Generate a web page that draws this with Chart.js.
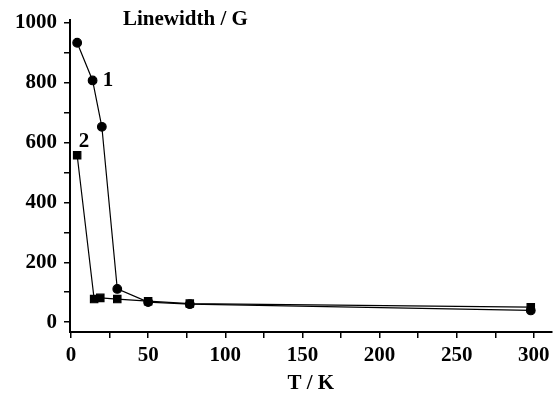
<!DOCTYPE html>
<html>
<head>
<meta charset="utf-8">
<script src="https://cdn.jsdelivr.net/npm/chart.js@4"></script>
<style>
  html, body { margin: 0; padding: 0; background: #fff; }
  #wrap { width: 558px; height: 402px; position: relative; }
</style>
</head>
<body>
<div id="wrap"><canvas id="lw" width="558" height="402"></canvas></div>
<script>
// T / K values and linewidths
const temps1 = [4, 14, 20, 30, 50, 77, 298]
const width1 = [934, 808, 653, 111, 67, 60, 39]
const temps2 = [4, 15, 19, 30, 50, 77, 298]
const width2 = [558, 77, 81, 77, 70, 62, 50]
const xTicks = [0, 25, 50, 75, 100, 125, 150, 175, 200, 225, 250, 275, 300]
const yTicks = [0, 100, 200, 300, 400, 500, 600, 700, 800, 900, 1000]

const FONT = "'Liberation Serif', 'Times New Roman', serif"

const labelsPlugin = {
    id: 'labels',
    afterDraw(chart) {
        const ctx = chart.ctx
        const x = chart.scales.x, y = chart.scales.y
        ctx.save()
        ctx.fillStyle = '#000'
        ctx.font = 'bold 21px ' + FONT
        ctx.textBaseline = 'middle'
        ctx.textAlign = 'left'
        ctx.fillText('Linewidth / G', 123, 20)
        ctx.textAlign = 'center'
        ctx.fillText('1', x.getPixelForValue(24), y.getPixelForValue(806))
        ctx.fillText('2', x.getPixelForValue(8.5), y.getPixelForValue(602))
        ctx.restore()
    }
}

new Chart(document.getElementById('lw'), {
    type: 'line',
    data: {
        datasets: [
            {
                label: '1',
                data: temps1.map((t, i) => ({x: t, y: width1[i]})),
                borderColor: '#000',
                backgroundColor: '#000',
                borderWidth: 1.2,
                pointStyle: 'circle',
                pointRadius: 4.3,
                tension: 0
            },
            {
                label: '2',
                data: temps2.map((t, i) => ({x: t, y: width2[i]})),
                borderColor: '#000',
                backgroundColor: '#000',
                borderWidth: 1.2,
                pointStyle: 'rect',
                pointRadius: 5.2,
                tension: 0
            }
        ]
    },
    options: {
        responsive: false,
        animation: false,
        devicePixelRatio: 1,
        layout: {padding: {top: 20, right: -4, left: 0, bottom: 0}},
        plugins: {legend: {display: false}, tooltip: {enabled: false}},
        scales: {
            x: {
                type: 'linear',
                min: -0.64,
                max: 311.5,
                afterBuildTicks: axis => { axis.ticks = xTicks.map(v => ({value: v})) },
                afterFit: axis => { axis.height = 70 },
                border: {color: '#000', width: 2},
                grid: {drawOnChartArea: false, color: '#000', lineWidth: 1.5, tickLength: 6},
                ticks: {
                    color: '#000',
                    padding: 5,
                    maxRotation: 0,
                    autoSkip: false,
                    font: {family: FONT, size: 21, weight: 'bold'},
                    callback: v => v % 50 === 0 ? v : ''
                },
                title: {
                    display: true,
                    text: 'T / K',
                    color: '#000',
                    font: {family: FONT, size: 21, weight: 'bold'},
                    padding: {top: 0, bottom: 6}
                }
            },
            y: {
                min: -33,
                max: 1010,
                afterBuildTicks: axis => { axis.ticks = yTicks.map(v => ({value: v})) },
                afterFit: axis => { axis.width = 70 },
                border: {color: '#000', width: 2},
                grid: {drawOnChartArea: false, color: '#000', lineWidth: 1.5, tickLength: 6},
                ticks: {
                    color: '#000',
                    padding: 7,
                    autoSkip: false,
                    font: {family: FONT, size: 21, weight: 'bold'},
                    callback: v => v % 200 === 0 ? v : ''
                }
            }
        }
    },
    plugins: [labelsPlugin]
})
</script>
</body>
</html>
